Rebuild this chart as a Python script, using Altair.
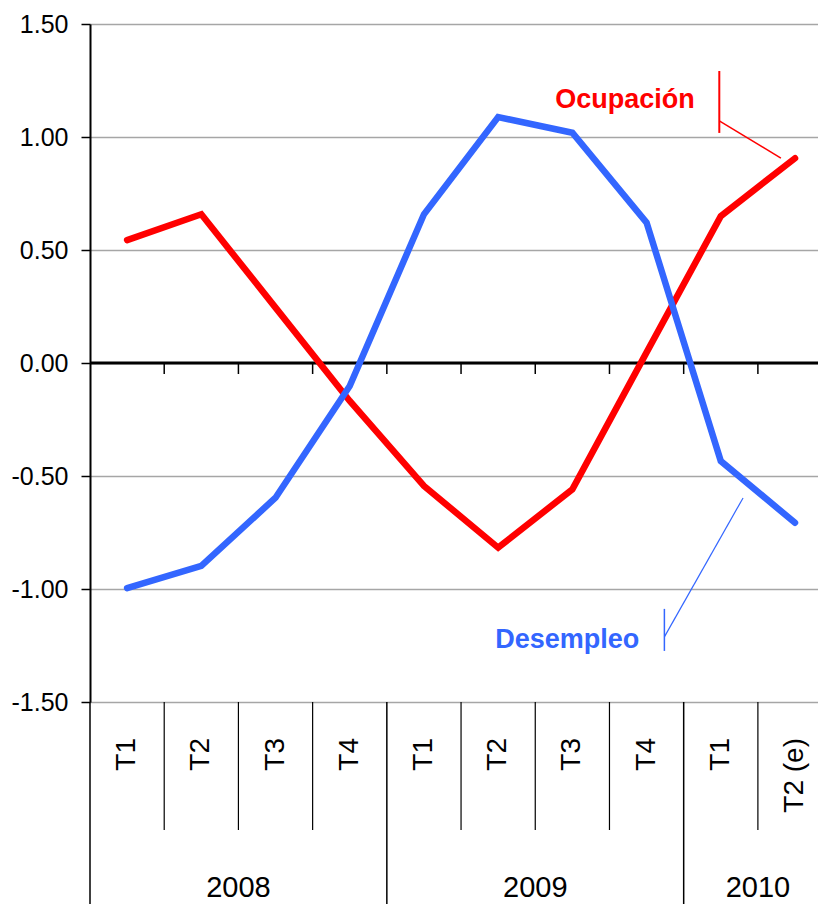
import altair as alt
import pandas as pd

# ---- data ----
quarters = ["T1", "T2", "T3", "T4", "T1", "T2", "T3", "T4", "T1", "T2 (e)"]
years = ["2008", "2009", "2010"]
year_span = [4, 4, 2]
ocupacion = [0.544, 0.658, 0.245, -0.168, -0.544, -0.817, -0.559, 0.047, 0.650, 0.906]
desempleo = [-0.996, -0.898, -0.596, -0.102, 0.658, 1.088, 1.019, 0.621, -0.434, -0.707]
y_ticks = [-1.5, -1.0, -0.5, 0.0, 0.5, 1.0, 1.5]

series_names = ["Ocupación", "Desempleo"]
series_colors = ["#ff0000", "#3366ff"]
label_x = [6.71, 5.93]
label_y = [1.128, -1.261]
# leader lines (x, x2, y, y2) in data units, per series
lead_serie = ["Ocupación", "Ocupación", "Desempleo", "Desempleo"]
lead_x = [7.98, 7.98, 7.24, 7.24]
lead_x2 = [7.98, 8.81, 7.24, 8.30]
lead_y = [1.292, 1.071, -1.088, -1.212]
lead_y2 = [1.018, 0.907, -1.274, -0.597]
lead_w = [2, 1.5, 1.5, 1.2]

W, H = 728, 678
idx = list(range(len(quarters)))

# category boundaries
year_bounds = [-0.5]
for s in year_span:
    year_bounds.append(year_bounds[-1] + s)
year_centers = [(year_bounds[k] + year_bounds[k + 1]) / 2 for k in range(len(years))]
all_bounds = [i + 0.5 for i in idx[:-1]]
quarter_seps = [b for b in all_bounds if b not in year_bounds]
year_seps = year_bounds[:-1]

x_scale = alt.Scale(domain=[-0.5, 9.31], nice=False, zero=False)
y_scale = alt.Scale(domain=[-1.5, 1.5], nice=False, zero=False)

SANS = "'Liberation Sans', Arial, sans-serif"

df_ocu = pd.DataFrame({"i": idx, "v": ocupacion})
df_des = pd.DataFrame({"i": idx, "v": desempleo})

y_axis = alt.Axis(
    values=y_ticks,
    labelExpr="(datum.value < 0 ? '-' : '') + format(abs(datum.value), '.2f')",
    title=None,
    domainColor="black", domainWidth=2,
    tickColor="black", tickWidth=1.5, tickSize=9,
    labelPadding=13, labelFontSize=25, labelFont=SANS, labelColor="black",
    grid=True, gridColor="#a6a6a6", gridWidth=1.5,
)

# axis + grid carrier
grid_layer = alt.Chart(df_ocu).mark_point(opacity=0).encode(
    x=alt.X("i:Q", scale=x_scale, axis=None),
    y=alt.Y("v:Q", scale=y_scale, axis=y_axis),
)

zero_df = pd.DataFrame({"y": [0.0]})
zero_line = alt.Chart(zero_df).mark_rule(color="black", strokeWidth=3).encode(
    y=alt.Y("y:Q", scale=y_scale),
    x=alt.value(0), x2=alt.value(W),
)

zero_ticks = alt.Chart(pd.DataFrame({"b": all_bounds, "y": [0.0] * len(all_bounds)})).mark_rule(
    color="black", strokeWidth=1.5
).encode(
    x=alt.X("b:Q", scale=x_scale),
    y=alt.Y("y:Q", scale=y_scale),
    y2=alt.value(H / 2 + 11),
)

line_ocu = alt.Chart(df_ocu).mark_line(
    color=series_colors[0], strokeWidth=6.5, strokeCap="round", strokeJoin="miter"
).encode(x=alt.X("i:Q", scale=x_scale), y=alt.Y("v:Q", scale=y_scale))

line_des = alt.Chart(df_des).mark_line(
    color=series_colors[1], strokeWidth=6.5, strokeCap="round", strokeJoin="miter"
).encode(x=alt.X("i:Q", scale=x_scale), y=alt.Y("v:Q", scale=y_scale))

labels_df = pd.DataFrame({"t": series_names, "x": label_x, "y": label_y})
series_labels = alt.Chart(labels_df).mark_text(
    font=SANS, fontSize=27, fontWeight="bold", align="center", baseline="alphabetic"
).encode(
    x=alt.X("x:Q", scale=x_scale),
    y=alt.Y("y:Q", scale=y_scale),
    text="t:N",
    color=alt.Color("t:N", scale=alt.Scale(domain=series_names, range=series_colors), legend=None),
)

lead_df = pd.DataFrame({"s": lead_serie, "x": lead_x, "x2": lead_x2, "y": lead_y, "y2": lead_y2, "w": lead_w})
leaders = alt.Chart(lead_df).mark_rule().encode(
    x=alt.X("x:Q", scale=x_scale), x2="x2:Q",
    y=alt.Y("y:Q", scale=y_scale), y2="y2:Q",
    color=alt.Color("s:N", scale=alt.Scale(domain=series_names, range=series_colors), legend=None),
    strokeWidth=alt.StrokeWidth("w:Q", scale=None, legend=None),
)

# category axis below the plot
q_sep = alt.Chart(pd.DataFrame({"b": quarter_seps})).mark_rule(color="black", strokeWidth=1.2).encode(
    x=alt.X("b:Q", scale=x_scale), y=alt.value(H), y2=alt.value(H + 128),
)
y_sep = alt.Chart(pd.DataFrame({"b": year_seps})).mark_rule(color="black", strokeWidth=1.5).encode(
    x=alt.X("b:Q", scale=x_scale), y=alt.value(H), y2=alt.value(H + 204),
)
q_labels = alt.Chart(pd.DataFrame({"i": idx, "q": quarters})).mark_text(
    font=SANS, fontSize=28, angle=270, align="right", baseline="middle", color="black"
).encode(x=alt.X("i:Q", scale=x_scale), y=alt.value(H + 36), text="q:N")
y_labels = alt.Chart(pd.DataFrame({"c": year_centers, "yr": years})).mark_text(
    font=SANS, fontSize=29, align="center", baseline="alphabetic", color="black"
).encode(x=alt.X("c:Q", scale=x_scale), y=alt.value(H + 195), text="yr:N")

chart = alt.layer(
    grid_layer, zero_line, zero_ticks, leaders, line_ocu, line_des, series_labels,
    q_sep, y_sep, q_labels, y_labels,
).properties(
    width=W, height=H,
    padding={"left": 82, "top": 16, "right": 0, "bottom": 202},
    autosize=alt.AutoSizeParams(type="none"),
).configure_view(stroke=None).configure(background="white")

chart.save("out.html", embed_options={"renderer": "svg", "actions": False})
